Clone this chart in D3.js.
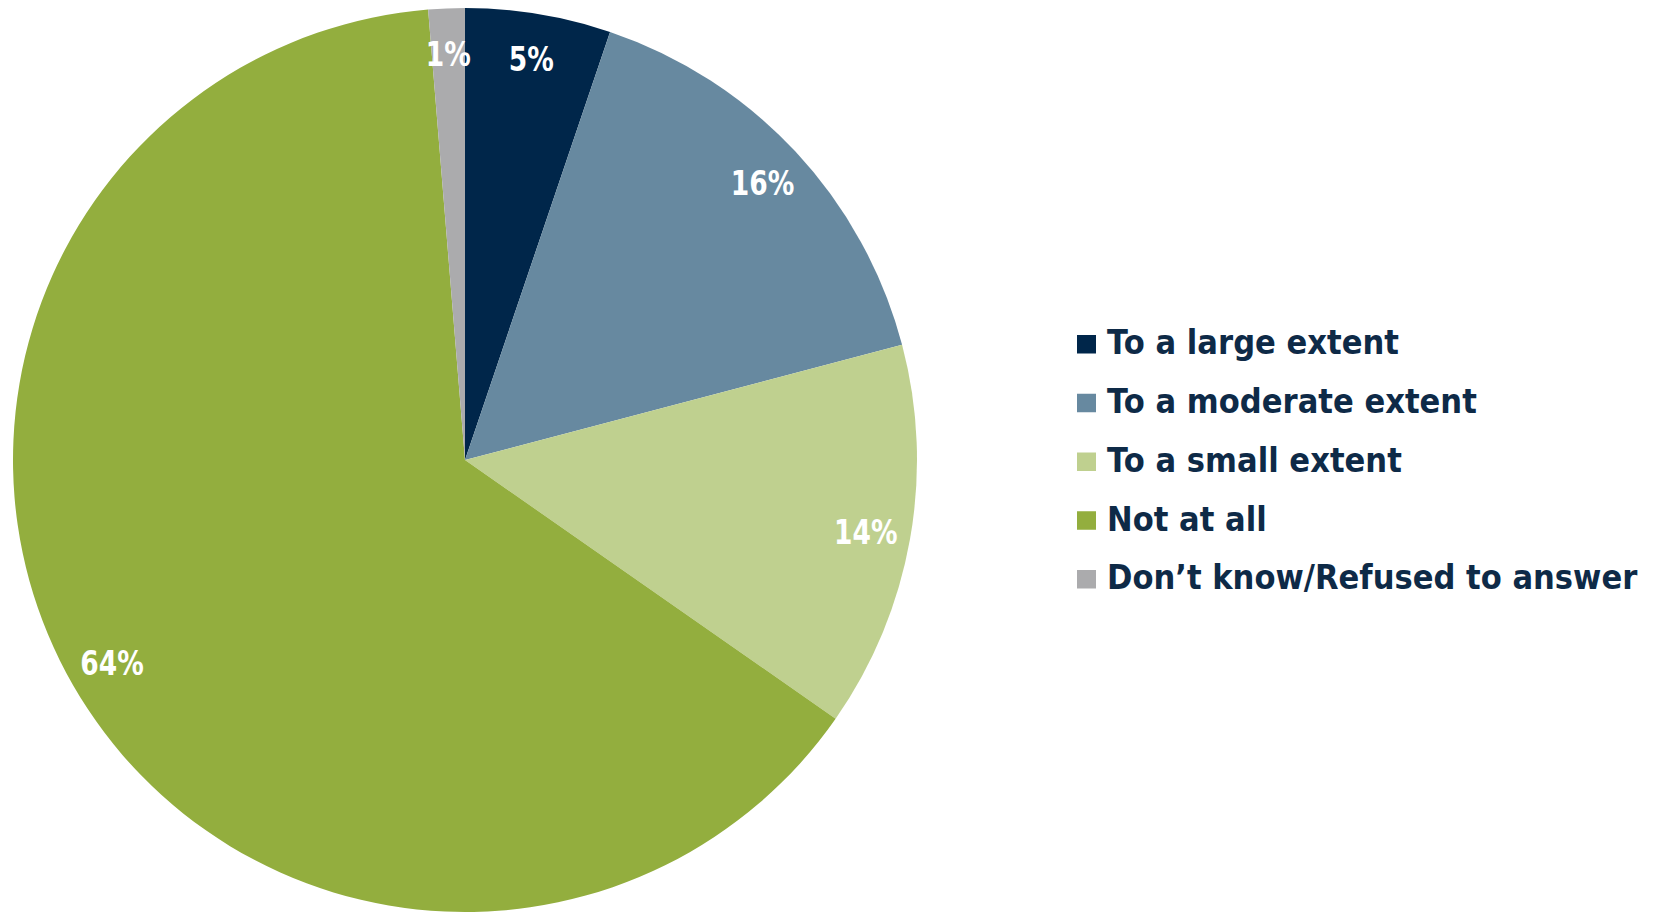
<!DOCTYPE html>
<html>
<head>
<meta charset="utf-8">
<script src="https://cdn.jsdelivr.net/npm/d3@7"></script>
<style>
  html, body { margin: 0; padding: 0; background: #ffffff; }
  svg { display: block; }
  text { font-family: "DejaVu Sans", "Liberation Sans", sans-serif; font-weight: bold; }
</style>
</head>
<body>
<svg id="chart" width="1660" height="915"></svg>
<script>
const categories = ["To a large extent", "To a moderate extent", "To a small extent", "Not at all", "Don\u2019t know/Refused to answer"];
const values = [5.2, 15.7, 13.8, 64.0, 1.3];
const valueLabels = ["5%", "16%", "14%", "64%", "1%"];
const colors = ["#00264A", "#6789A0", "#BFD08F", "#93AE3E", "#ABABAD"];

const svg = d3.select("#chart");
const cx = 465, cy = 460, R = 452, labelR = 407;

const data = categories.map((c, i) => ({ cat: c, value: values[i], label: valueLabels[i], color: colors[i] }));

const pie = d3.pie().sort(null).value(d => d.value);
const arcs = pie(data);
const arc = d3.arc().innerRadius(0).outerRadius(R);
const labelArc = d3.arc().innerRadius(labelR).outerRadius(labelR);

const g = svg.append("g").attr("transform", `translate(${cx},${cy})`);
g.selectAll("path.slice").data(arcs).enter().append("path")
  .attr("class", "slice")
  .attr("d", arc)
  .attr("fill", d => d.data.color);

function squeeze(sel, f) {
  sel.each(function() {
    const w = this.getComputedTextLength();
    d3.select(this).attr("textLength", w * f).attr("lengthAdjust", "spacingAndGlyphs");
  });
}

const lbl = g.selectAll("text.val").data(arcs).enter().append("text")
  .attr("class", "val")
  .attr("x", d => labelArc.centroid(d)[0])
  .attr("y", d => labelArc.centroid(d)[1] + 12.4)
  .attr("text-anchor", "middle")
  .attr("fill", "#ffffff")
  .attr("font-size", 34)
  .text(d => d.data.label);
squeeze(lbl, 0.78);

const leg = svg.append("g").attr("transform", "translate(1077,354.3)");
const rows = leg.selectAll("g.row").data(data).enter().append("g")
  .attr("class", "row")
  .attr("transform", (d, i) => `translate(0,${i * 58.75})`);
rows.append("rect")
  .attr("x", 0).attr("y", -19.3)
  .attr("width", 19).attr("height", 18.5)
  .attr("fill", d => d.color);
const lt = rows.append("text")
  .attr("x", 30).attr("y", 0)
  .attr("fill", "#0E2A47")
  .attr("font-size", 33.3)
  .text(d => d.cat);
squeeze(lt, 0.92);
</script>
</body>
</html>
